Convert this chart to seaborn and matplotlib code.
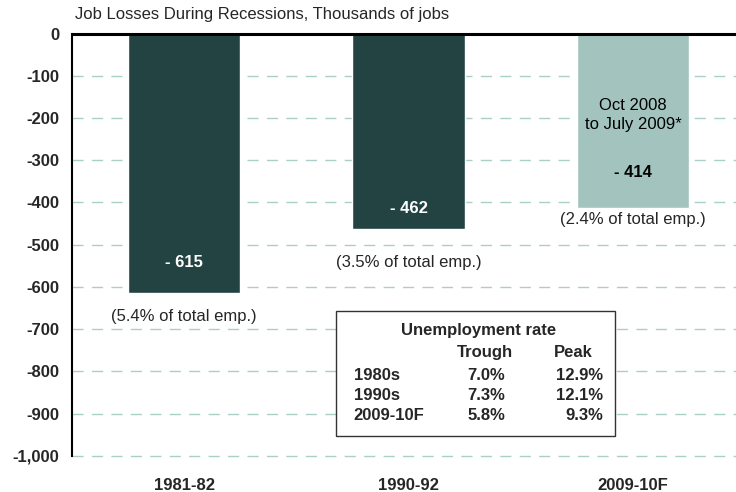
import matplotlib
matplotlib.use('Agg')
import matplotlib.pyplot as plt
import matplotlib.ticker as mticker
from matplotlib.patches import Rectangle
import seaborn as sns

# data
periods = ['1981-82', '1990-92', '2009-10F']
job_losses = [-615, -462, -414]
pct_labels = ['(5.4% of total emp.)', '(3.5% of total emp.)', '(2.4% of total emp.)']
bar_colors = ['#234342', '#234342', '#a3c4be']

rate_decades = ['1980s', '1990s', '2009-10F']
rate_trough = ['7.0%', '7.3%', '5.8%']
rate_peak = ['12.9%', '12.1%', '9.3%']

sns.set_style('white')
plt.rcParams['font.family'] = ['Liberation Sans', 'DejaVu Sans']

FS = 12

fig = plt.figure(figsize=(7.36, 4.92), dpi=100)
ax = fig.add_axes([0.0978, 0.0732, 0.9022, 0.8587])

sns.barplot(x=periods, y=job_losses, hue=periods, palette=bar_colors,
            width=0.5, legend=False, saturation=1, ax=ax, zorder=2)

ax.set_xlim(-0.5, 2.459)
ax.set_ylim(-1000, 0)
ax.set_yticks(range(-1000, 1, 100))
ax.yaxis.set_major_formatter(mticker.FuncFormatter(lambda v, p: f'{int(v):,}'))

# dashed grid
for v in range(-1000, 0, 100):
    ax.axhline(v, color='#a9d0c8', lw=1, ls=(0, (8, 6)), zorder=0, clip_on=False)
ax.axhline(0, color='black', lw=2.2, zorder=3, clip_on=False)

for s in ['top', 'right', 'bottom']:
    ax.spines[s].set_visible(False)
ax.spines['left'].set_color('black')
ax.spines['left'].set_linewidth(1.5)
ax.tick_params(axis='y', direction='out', length=4, width=1.2, color='black',
               labelsize=FS, pad=5)
ax.tick_params(axis='x', length=0, labelsize=FS, pad=16)
for lab in ax.get_yticklabels() + ax.get_xticklabels():
    lab.set_fontweight('bold')
ax.set_xlabel('')
ax.set_ylabel('')

# bar labels
ax.text(0, -541, f'- {-job_losses[0]}', color='white', fontsize=FS,
        fontweight='bold', ha='center', va='center')
ax.text(1, -415, f'- {-job_losses[1]}', color='white', fontsize=FS,
        fontweight='bold', ha='center', va='center')
ax.text(2, -328, f'- {-job_losses[2]}', color='black', fontsize=FS,
        fontweight='bold', ha='center', va='center')
ax.text(2, -193, 'Oct 2008\nto July 2009*', color='black', fontsize=FS,
        ha='center', va='center', linespacing=1.35)
pct_y = [-671, -541, -441]
for i in range(3):
    ax.text(i, pct_y[i], pct_labels[i], fontsize=FS, ha='center', va='center')

fig.text(0.102, 0.971, 'Job Losses During Recessions, Thousands of jobs',
         fontsize=FS, ha='left', va='center')

# unemployment rate box
ax.add_patch(Rectangle((0.677, -953), 1.243, 296, facecolor='white',
                       edgecolor='#333333', lw=1, zorder=4))
ax.text(1.31, -702, 'Unemployment rate', fontsize=FS, fontweight='bold',
        ha='center', va='center', zorder=5)
ax.text(1.34, -754, 'Trough', fontsize=FS, fontweight='bold',
        ha='center', va='center', zorder=5)
ax.text(1.733, -754, 'Peak', fontsize=FS, fontweight='bold',
        ha='center', va='center', zorder=5)
row_y = [-810, -858, -903]
for i in range(3):
    ax.text(0.755, row_y[i], rate_decades[i], fontsize=FS, fontweight='bold',
            ha='left', va='center', zorder=5)
    ax.text(1.261, row_y[i], rate_trough[i], fontsize=FS, fontweight='bold',
            ha='left', va='center', zorder=5)
    ax.text(1.866, row_y[i], rate_peak[i], fontsize=FS, fontweight='bold',
            ha='right', va='center', zorder=5)

fig.savefig('out.png', dpi=100)
